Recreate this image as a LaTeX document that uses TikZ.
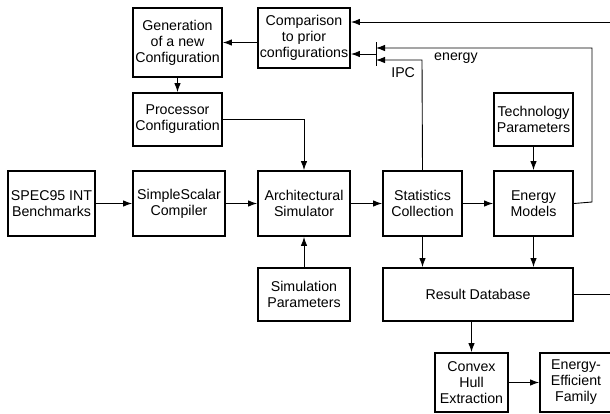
\documentclass[tikz,border=0pt]{standalone}
\usepackage{fontspec}
\setmainfont{Liberation Sans}
\usetikzlibrary{positioning, arrows.meta}
\tikzset{box/.style={draw,line width=1.9pt,align=center,inner sep=0pt,
    minimum width=#1},box/.default=79pt,
  lbl/.style={inner sep=1pt}}

\begin{document}
\begin{tikzpicture}[>={Latex[length=9pt,width=6.5pt]}, x=1pt, y=-1pt, line width=0.9pt,
    every node/.style={font=\fontsize{14.2}{16}\selectfont}]
    \useasboundingbox (0,0) rectangle (610,413);

    % feedback loop boxes
    \node[box=89pt, minimum height=69pt] (gen) at (177.5,42.5)
      {Generation\\of a new\\Configuration};
    \node[box=92pt, minimum height=60pt] (comp) at (304,38)
      {Comparison\\to prior\\configurations};
    \node[box=89pt, minimum height=53pt] (proc) at (177.5,119.5)
      {Processor\\Configuration};

    % main row
    \node[box=87pt, minimum height=65pt] (spec) at (51.5,203.5)
      {SPEC95 INT\\Benchmarks};
    \node[box=92pt, minimum height=65pt] (ssc) at (179,203.5)
      {SimpleScalar\\Compiler};
    \node[box=92pt, minimum height=65pt] (arch) at (304,203.5)
      {Architectural\\Simulator};
    \node[box, minimum height=65pt] (stat) at (422.5,203.5)
      {Statistics\\Collection};
    \node[box, minimum height=65pt] (emod) at (533.5,203.5)
      {Energy\\Models};

    \node[box, minimum height=53pt] (tech) at (533.5,119.5)
      {Technology\\Parameters};
    \node[box=92pt, minimum height=53pt] (simp) at (304,294.5)
      {Simulation\\Parameters};
    \node[box=190pt, minimum height=53pt] (rdb) at (478,294.5)
      {Result Database};

    \node[box=73pt, minimum height=59pt] (hull) at (471.5,382.5)
      {Convex\\Hull\\Extraction};
    \node[box=72pt, minimum height=59pt] (eff) at (576,382.5)
      {Energy-\\Efficient\\Family};

    % merge bar in front of the comparison box
    \coordinate (bartop) at (376,42);
    \coordinate (barbot) at (376,66);
    \draw (bartop) -- (barbot);

    \draw[->] (comp.west |- gen.east) -- (gen.east);
    \draw[->] (gen) -- (proc);
    \draw[->] (proc.east) -| (arch.north);
    \draw[->] (spec) -- (ssc);
    \draw[->] (ssc) -- (arch);
    \draw[->] (simp) -- (arch);
    \draw[->] (arch) -- (stat);
    \draw[->] (stat) -- (emod);
    \draw[->] (tech) -- (emod);
    \draw[->] (stat.south) -- (stat.south |- rdb.north);
    \draw[->] (emod.south) -- (emod.south |- rdb.north);
    \draw[->] (hull.north |- rdb.south) -- (hull.north);
    \draw[->] (hull) -- (eff);

    \draw[->] (emod.east) -- (592,202) -- (592,48)
      -- node[lbl, below=3pt, pos=0.63] {energy} (bartop |- 0,48);
    \draw[->] (stat.north) -- (422,60)
      -- node[lbl, below=6pt, pos=0.41] {IPC} (bartop |- 0,60);
    \draw[->] (bartop |- 0,54) -- (comp.east |- 0,54);
    \draw[->] (rdb.east) -- (616,294.5) -- (616,22) -- (comp.east |- 0,22);
\end{tikzpicture}
\end{document}
